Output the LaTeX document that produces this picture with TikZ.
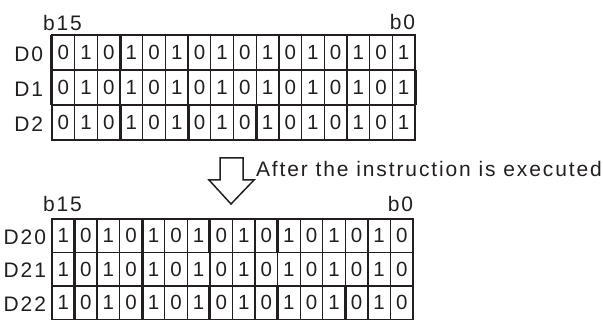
\documentclass[tikz,border=0pt]{standalone}
\usepackage{fontspec}
\setmainfont{Liberation Sans}[LetterSpace=9]
\definecolor{ink}{RGB}{35,31,32}
\begin{document}
\begin{tikzpicture}[x=1pt,y=-1pt,
  txt/.style={inner sep=0pt,outer sep=0pt,text=ink,font=\fontsize{21}{25}\selectfont},
  tcell/.style={draw=ink,line width=1.3pt,inner sep=0pt,outer sep=0pt,minimum width=22.69pt,minimum height=35pt,text=ink,font=\fontsize{20.5}{20}\selectfont},
  bcell/.style={draw=ink,line width=1.3pt,inner sep=0pt,outer sep=0pt,minimum width=22.56pt,minimum height=33.5pt,text=ink,font=\fontsize{20.5}{20}\selectfont},
  heavy/.style={draw=ink,line width=3pt},
  bigarrow/.style={draw=ink,line width=1.5pt,line join=miter,fill=white}]
\useasboundingbox (0,0) rectangle (603,320);
% top register block
\foreach \r in {1,2,3}{
  \foreach \c in {0,...,15}{
    \pgfmathtruncatemacro\v{mod(\c,2)}
    \node[tcell] (t-\r-\c) at ({52+22.6875*(\c+0.5)},{35+35*(\r-0.5)}) {\v};
  }
}
% bottom register block
\foreach \r in {1,2,3}{
  \foreach \c in {0,...,15}{
    \pgfmathtruncatemacro\v{1-mod(\c,2)}
    \node[bcell] (b-\r-\c) at ({52+22.5625*(\c+0.5)},{219+33.5*(\r-0.5)}) {\v};
  }
}
% heavier vertical strokes as in the reference
\foreach \r/\c in {1/0,1/3,2/0,3/3,3/6,3/9}{
  \draw[heavy] (t-\r-\c.north west) -- (t-\r-\c.south west);
}
\draw[heavy] (t-2-15.north east) -- (t-2-15.south east);
\foreach \r/\c in {1/1,1/4,1/7,1/10,2/1,2/4,3/1,3/4,3/7,3/10,3/13}{
  \draw[heavy] (b-\r-\c.north west) -- (b-\r-\c.south west);
}
% labels
\node[txt,anchor=east] (lD0) at (43,54) {D0};
\node[txt,anchor=east] (lD1) at (43,89) {D1};
\node[txt,anchor=east] (lD2) at (43,124) {D2};
\node[txt,anchor=east] (lD20) at (46,237) {D20};
\node[txt,anchor=east] (lD21) at (46,270) {D21};
\node[txt,anchor=east] (lD22) at (46,304) {D22};
\node[txt,anchor=base west] (tb15) at (43,31) {b15};
\node[txt,anchor=base east] (tb0) at (415,30) {b0};
\node[txt,anchor=base west] (bb15) at (43,212) {b15};
\node[txt,anchor=base east] (bb0) at (413,212) {b0};
% arrow and caption
\draw[bigarrow] (220,158) -- (243,158) -- (243,180) -- (254,180) -- (231,204) -- (209,180) -- (220,180) -- cycle;
\node[txt,anchor=base west] (after) at (256,177) {After the instruction is executed};
\end{tikzpicture}
\end{document}
